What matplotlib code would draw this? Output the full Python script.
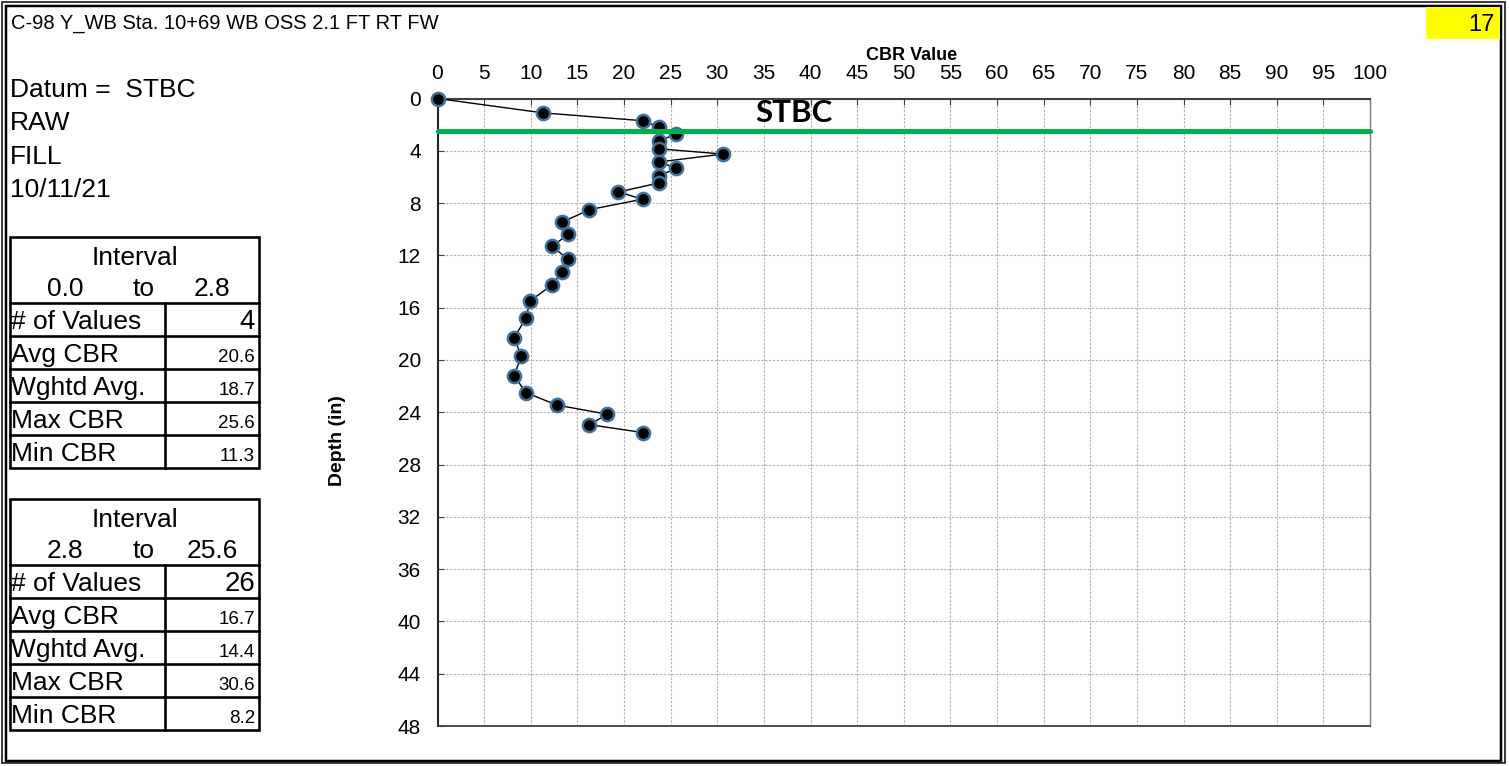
import matplotlib.pyplot as plt
import numpy as np
from matplotlib.patches import Rectangle

plt.rcParams['font.family'] = ['Liberation Sans', 'DejaVu Sans']

# DCP profile
cbr = [0, 11.3, 22.0, 23.8, 25.6, 23.8, 23.8, 30.6, 23.8, 25.6, 23.8, 23.8,
       19.4, 22.0, 16.3, 13.4, 14.0, 12.3, 14.0, 13.4, 12.3, 9.9, 9.5, 8.2,
       9.0, 8.2, 9.5, 12.8, 18.2, 16.3, 22.0]
depth = [0, 1.1, 1.7, 2.2, 2.7, 3.25, 3.85, 4.25, 4.85, 5.35, 5.9, 6.45,
         7.15, 7.7, 8.5, 9.45, 10.4, 11.3, 12.3, 13.25, 14.25, 15.5, 16.8,
         18.3, 19.7, 21.2, 22.5, 23.45, 24.15, 24.95, 25.55]
stbc_depth = 2.5

title = "C-98 Y_WB Sta. 10+69 WB OSS 2.1 FT RT FW"
page_no = "17"
info_lines = ["Datum =  STBC", "RAW", "FILL", "10/11/21"]

stat_names = ["# of Values", "Avg CBR", "Wghtd Avg.", "Max CBR", "Min CBR"]
interval1 = ("0.0", "2.8")
stats1 = [4, 20.6, 18.7, 25.6, 11.3]
interval2 = ("2.8", "25.6")
stats2 = [26, 16.7, 14.4, 30.6, 8.2]

W, H = 1509, 766
PX = 0.72  # points per pixel at dpi 100
BIG = 19

fig = plt.figure(figsize=(W / 100, H / 100), dpi=100)

# overlay in pixel coordinates for the sheet decorations
bg = fig.add_axes([0, 0, 1, 1])
bg.set_xlim(0, W)
bg.set_ylim(H, 0)
bg.axis('off')

# double frame
bg.add_patch(Rectangle((1.5, 1.5), 1503.5, 761.5, fill=False, ec='black', lw=1.5 * PX))
bg.add_patch(Rectangle((6, 6), 1494.5, 754.5, fill=False, ec='black', lw=2.5 * PX))

# page number box
bg.add_patch(Rectangle((1426, 7), 74, 32, fc='#ffff00', ec='none'))
bg.text(1495, 31, page_no, fontsize=17, ha='right', va='baseline')

bg.text(11, 29, title, fontsize=14.5, ha='left', va='baseline')
for i, line in enumerate(info_lines):
    bg.text(10, 97 + i * 33.3, line, fontsize=BIG, ha='left', va='baseline')


def draw_table(top, interval, stats):
    left, mid, right = 10, 164.5, 259
    head_h, row_h = 66, 33
    bottom = top + head_h + row_h * len(stats)
    lw = 2.6 * PX
    bg.add_patch(Rectangle((left, top), right - left, bottom - top,
                           fill=False, ec='black', lw=lw))
    for k in range(len(stats)):
        y = top + head_h + k * row_h
        bg.plot([left, right], [y, y], color='black', lw=lw)
    bg.plot([mid, mid], [top + head_h, bottom], color='black', lw=lw)

    bg.text((left + right) / 2, top + 28, "Interval", fontsize=BIG,
            ha='center', va='baseline')
    bg.text(65, top + 59, interval[0], fontsize=BIG, ha='center', va='baseline')
    bg.text(144, top + 59, "to", fontsize=BIG, ha='center', va='baseline')
    bg.text(212, top + 59, interval[1], fontsize=BIG, ha='center', va='baseline')

    for k, (name, val) in enumerate(zip(stat_names, stats)):
        base = top + head_h + (k + 1) * row_h - 7
        bg.text(11, base, name, fontsize=BIG, ha='left', va='baseline')
        if k == 0:
            bg.text(255, base, f"{val}", fontsize=20, ha='right', va='baseline')
        else:
            bg.text(255, base, f"{val:.1f}", fontsize=13.5, ha='right', va='baseline')


draw_table(236.7, interval1, stats1)
draw_table(499.3, interval2, stats2)

# axis titles
bg.text(912, 55, "CBR Value", fontsize=13, fontweight='bold', ha='center', va='center')
bg.text(338, 441, "Depth (in)", fontsize=14, fontweight='bold', rotation=90,
        ha='center', va='center')

# main plot
ax = fig.add_axes([437.5 / W, 1 - 726 / H, (1370 - 437.5) / W, (726 - 98.5) / H])
ax.plot(cbr, depth, color='black', lw=1, marker='o', ms=9.5, mfc='black',
        mec='#41719c', mew=1.8, clip_on=False, zorder=3)
ax.axhline(stbc_depth, color='#00b050', lw=5 * PX, zorder=4, clip_on=False,
           solid_capstyle='round')
ax.text(38.2, 1.8, "STBC", fontfamily='Lato', fontweight='bold', fontsize=22.5,
        ha='center', va='baseline', zorder=5)

ax.set_xlim(0, 100)
ax.set_ylim(48, 0)
ax.xaxis.tick_top()
ax.set_xticks(np.arange(0, 101, 5))
ax.set_yticks(np.arange(0, 49, 4))
ax.grid(True, color='#b0b0b0', ls=(0, (2, 1.5)), lw=0.8)
ax.tick_params(direction='in', length=4, labelsize=15, pad=12, color='#404040')
ax.tick_params(axis='x', pad=11)

ax.spines['top'].set_color('#404040')
ax.spines['top'].set_linewidth(1.5)
ax.spines['left'].set_color('#262626')
ax.spines['left'].set_linewidth(1.5)
ax.spines['bottom'].set_color('#404040')
ax.spines['bottom'].set_linewidth(1.3)
ax.spines['right'].set_color('#808080')
ax.spines['right'].set_linewidth(1)

fig.savefig('out.png', dpi=100)
